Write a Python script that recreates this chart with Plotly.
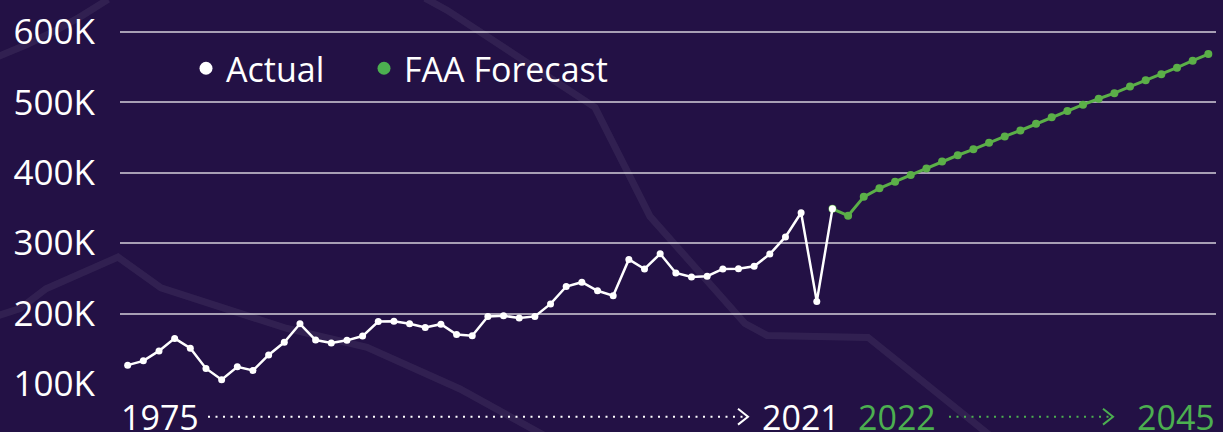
import plotly.graph_objects as go

# ---------------- data ----------------
actual_years = list(range(1976, 2022))
actual_values = [126.8, 132.9, 147.0, 164.8, 150.7, 122.1, 106.1, 124.4, 119.3, 141.3,
                 159.2, 185.5, 162.4, 158.2, 162.0, 168.1, 188.7, 189.1, 185.5, 180.3,
                 185.0, 170.4, 168.6, 195.8, 197.0, 193.6, 196.0, 213.8, 238.5, 244.6,
                 232.4, 225.4, 277.0, 263.4, 284.9, 257.7, 252.1, 253.1, 263.4, 263.8,
                 267.2, 284.5, 308.9, 343.2, 217.3, 348.9]
forecast_years = list(range(2022, 2046))
forecast_values = [339.0, 365.8, 377.9, 387.3, 396.7, 406.1, 415.9, 424.9, 433.3, 442.7,
                   451.7, 460.1, 469.5, 478.9, 487.8, 496.7, 505.2, 513.1, 522.5, 531.4,
                   539.9, 549.3, 559.2, 568.6]
y_tickvals = [100000, 200000, 300000, 400000, 500000, 600000]
y_ticktext = ["100K", "200K", "300K", "400K", "500K", "600K"]
series_names = ["Actual", "FAA Forecast"]
period_labels = ["1975", "2021", "2022", "2045"]

# ---------------- style ----------------
BG = "#231145"
WHITE = "#FFFFFF"
GREEN = "#5BAF48"
GREEN_TXT = "#4CAF50"
FONT = "Open Sans"
W, H = 1223, 432
L, R, T, B = 120, 7, 27, 48
PW, PH = W - L - R, H - T - B


def px(x):
    return (x - L) / PW


def py(y):
    return (H - B - y) / PH


fig = go.Figure()

# forecast (connected from the last actual point)
fig.add_trace(go.Scatter(
    x=[actual_years[-1]] + forecast_years,
    y=[v * 1000 for v in [actual_values[-1]] + forecast_values],
    mode="lines+markers", line=dict(color=GREEN, width=3),
    marker=dict(color=GREEN, size=8), showlegend=False, hoverinfo="x+y"))

fig.add_trace(go.Scatter(
    x=actual_years, y=[v * 1000 for v in actual_values],
    mode="lines+markers", line=dict(color=WHITE, width=2.5),
    marker=dict(color=WHITE, size=7), showlegend=False, hoverinfo="x+y"))

# legend-only entries (dots), each in its own legend box
fig.add_trace(go.Scatter(x=[None], y=[None], mode="markers", name=series_names[0],
                         marker=dict(color=WHITE, size=13), legend="legend"))
fig.add_trace(go.Scatter(x=[None], y=[None], mode="markers", name=series_names[1],
                         marker=dict(color=GREEN_TXT, size=13), legend="legend2"))

# ---- decorative background strokes ----
deco = "rgba(255,255,255,0.065)"


def path_from(pts):
    s = "M {} {}".format(px(pts[0][0]), py(pts[0][1]))
    for x, y in pts[1:]:
        s += " L {} {}".format(px(x), py(y))
    return s


lineA = [(425, -5), (447, 7), (595, 105), (650, 215), (745, 323), (767, 335),
         (868, 337), (995, 440)]
lineB = [(-5, 316), (20, 308), (46, 288), (118, 256), (161, 287), (287, 328),
         (367, 347), (460, 389), (548, 438)]
shapes = []
for pts in (lineA, lineB):
    shapes.append(dict(type="path", xref="paper", yref="paper", path=path_from(pts),
                       line=dict(color=deco, width=7), layer="below"))
shapes.append(dict(type="path", xref="paper", yref="paper",
                   path="M {} {} Q {} {} {} {}".format(px(-5), py(55), px(55), py(32), px(108), py(-4)),
                   line=dict(color=deco, width=7), layer="below"))

# ---- bottom period labels with dotted arrows ----
LY = 417
shapes.append(dict(type="line", xref="paper", yref="paper", x0=px(208), x1=px(745),
                   y0=py(LY), y1=py(LY), line=dict(color=WHITE, width=2, dash="2px,5.5px")))
shapes.append(dict(type="path", xref="paper", yref="paper",
                   path="M {} {} L {} {} L {} {}".format(px(738), py(409), px(748), py(LY), px(738), py(425)),
                   line=dict(color=WHITE, width=2)))
shapes.append(dict(type="line", xref="paper", yref="paper", x0=px(949), x1=px(1110),
                   y0=py(LY), y1=py(LY), line=dict(color=GREEN_TXT, width=2, dash="2px,5.5px")))
shapes.append(dict(type="path", xref="paper", yref="paper",
                   path="M {} {} L {} {} L {} {}".format(px(1103), py(409), px(1113), py(LY), px(1103), py(425)),
                   line=dict(color=GREEN_TXT, width=2)))

annotations = []
for text, x, anchor, col in [(period_labels[0], 119, "left", WHITE),
                             (period_labels[1], 760, "left", WHITE),
                             (period_labels[2], 856, "left", GREEN_TXT),
                             (period_labels[3], 1217, "right", GREEN_TXT)]:
    annotations.append(dict(text=text, xref="paper", yref="paper", x=px(x), y=py(LY),
                            xanchor=anchor, yanchor="middle", showarrow=False,
                            font=dict(family=FONT, size=34, color=col)))

legend_common = dict(orientation="h", xanchor="left", yanchor="middle",
                     bgcolor="rgba(0,0,0,0)", font=dict(family=FONT, size=34, color=WHITE))

fig.update_layout(
    width=W, height=H,
    margin=dict(l=L, r=R, t=T, b=B, pad=0),
    paper_bgcolor=BG, plot_bgcolor="rgba(0,0,0,0)",
    font=dict(family=FONT, color=WHITE, size=34),
    xaxis=dict(range=[1975.51, 2045.49], showgrid=False, zeroline=False,
               showticklabels=False, ticks="", showline=False, fixedrange=True),
    yaxis=dict(range=[100000, 602817], tickvals=y_tickvals, ticktext=y_ticktext,
               showgrid=True, gridcolor="rgba(255,255,255,0.6)", gridwidth=1.5,
               zeroline=False, ticks="", ticklabelstandoff=24,
               tickfont=dict(family=FONT, size=35, color=WHITE), fixedrange=True),
    legend=dict(x=px(186), y=py(66), **legend_common),
    legend2=dict(x=px(364), y=py(66), **legend_common),
    shapes=shapes, annotations=annotations,
    showlegend=True,
)

fig.write_html(
    "out.html",
    config={"displayModeBar": False},
    post_script="document.body.style.margin='0px';document.body.style.overflow='hidden';"
                "document.body.style.background='" + BG + "';",
)
